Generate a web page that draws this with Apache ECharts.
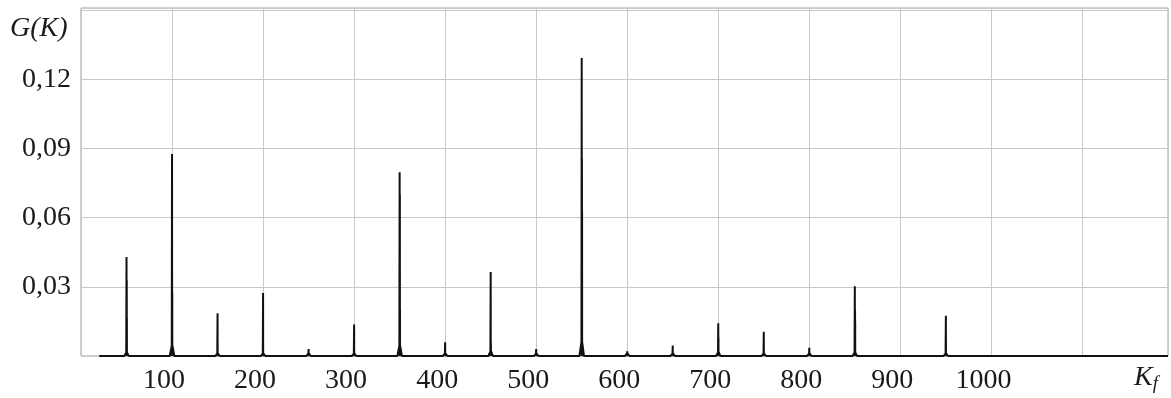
<!DOCTYPE html>
<html>
<head>
<meta charset="utf-8">
<script src="https://cdn.jsdelivr.net/npm/echarts@6/dist/echarts.min.js"></script>
<style>
  html, body { margin: 0; padding: 0; background: #fff; }
  #chart { width: 1171px; height: 398px; }
</style>
</head>
<body>
<div id="chart"></div>
<script>
// spectrum lines G(K) against Kf
const spikeK = [50, 100, 150, 200, 250, 300, 350, 400, 450, 500, 550, 600, 650, 700, 750, 800, 850, 950];
const spikePeak = [0.0430, 0.0876, 0.0186, 0.0273, 0.0030, 0.0137, 0.0797, 0.0060, 0.0364, 0.0030, 0.1293, 0.0020, 0.0045, 0.0142, 0.0105, 0.0036, 0.0303, 0.0175];
const spikeShoulderA = [0.0330, 0.0273, 0, 0, 0, 0, 0.0700, 0, 0.0056, 0, 0.0858, 0, 0, 0.0080, 0, 0, 0.0200, 0];
const spikeShoulderB = [0.0165, 0, 0, 0, 0, 0, 0.0200, 0, 0, 0, 0.0630, 0, 0, 0, 0, 0, 0.0152, 0];
const spikeFoot = [0.0015, 0.0045, 0.0010, 0.0010, 0.0010, 0.0010, 0.0045, 0.0010, 0.0020, 0.0010, 0.0060, 0.0010, 0.0010, 0.0015, 0.0010, 0.0010, 0.0015, 0.0010];
const kStart = 20;
const kEnd = 1194;

const yTicks = [0.03, 0.06, 0.09, 0.12];
const xTicks = [100, 200, 300, 400, 500, 600, 700, 800, 900, 1000];

const points = [[kStart, 0]];
spikeK.forEach((k, i) => {
  points.push([k - 2.5, 0], [k - 0.3, spikeFoot[i]], [k, spikePeak[i]], [k + 0.1, 0]);
  if (spikeShoulderA[i]) points.push([k + 0.25, spikeShoulderA[i]], [k + 0.3, 0]);
  if (spikeShoulderB[i]) points.push([k + 0.4, spikeShoulderB[i]], [k + 0.45, 0]);
  points.push([k + 0.5, spikeFoot[i]], [k + 2.5, 0]);
});
points.push([kEnd, 0]);

const serif = 'Liberation Serif';
const chart = echarts.init(document.getElementById('chart'));

const option = {
  animation: false,
  grid: {
    left: 81, right: 1, top: 8, bottom: 42,
    show: true, borderColor: '#a0a0a0', borderWidth: 1
  },
  xAxis: {
    type: 'value',
    min: 0, max: kEnd, interval: 100,
    axisLine: { show: false },
    axisTick: { show: false },
    splitLine: { show: true, lineStyle: { color: '#c8c8c8', width: 1 } },
    axisLabel: {
      margin: 11,
      fontFamily: serif, fontSize: 28, color: '#1a1a1a',
      padding: [0, 16, 0, 0],
      formatter: v => xTicks.includes(Math.round(v)) ? String(Math.round(v)) : ''
    }
  },
  yAxis: {
    type: 'value',
    min: 0, max: 0.151, interval: 0.03,
    axisLine: { show: false },
    axisTick: { show: false },
    splitLine: { show: true, lineStyle: { color: '#c8c8c8', width: 1 } },
    axisLabel: {
      margin: 10,
      fontFamily: serif, fontSize: 28, color: '#1a1a1a',
      formatter: v => yTicks.some(t => Math.abs(t - v) < 1e-6) ? v.toFixed(2).replace('.', ',') : ''
    }
  },
  graphic: [
    {
      type: 'text', left: 10, top: 15,
      style: { text: 'G(K)', font: 'italic 28px "Liberation Serif"', fill: '#1a1a1a' }
    },
    {
      type: 'text', left: 1134, top: 364,
      style: {
        text: '{k|K}{f|f}',
        rich: {
          k: { font: 'italic 28px "Liberation Serif"', fill: '#1a1a1a' },
          f: { font: 'italic 19px "Liberation Serif"', fill: '#1a1a1a', padding: [12, 0, 0, 0] }
        }
      }
    }
  ],
  series: [
    {
      type: 'line',
      data: points,
      symbol: 'none',
      lineStyle: { color: '#111', width: 2 }
    }
  ]
};

chart.setOption(option);
</script>
</body>
</html>
